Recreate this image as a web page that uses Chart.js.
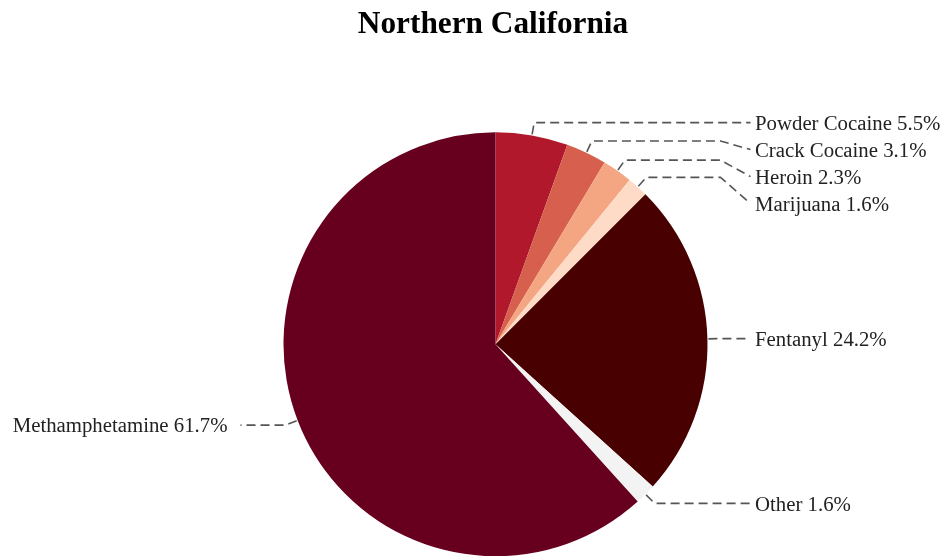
<!DOCTYPE html>
<html>
<head>
<meta charset="utf-8">
<script src="https://cdn.jsdelivr.net/npm/chart.js@4.4.1/dist/chart.umd.min.js"></script>
<style>
  html, body { margin: 0; padding: 0; background: #ffffff; }
  #wrap { width: 940px; height: 556px; position: relative; }
</style>
</head>
<body>
<div id="wrap"><canvas id="c" width="940" height="556"></canvas></div>
<script>
const chartTitle = "Northern California";
const categories = ["Powder Cocaine", "Crack Cocaine", "Heroin", "Marijuana", "Fentanyl", "Other", "Methamphetamine"];
const shares = [5.5, 3.1, 2.3, 1.6, 24.2, 1.6, 61.7];
const sliceColors = ["#b2182b", "#d6604d", "#f4a582", "#fddbc7", "#490000", "#f3f3f3", "#67001f"];

const labelFont = "20.8px 'Liberation Serif', 'Times New Roman', serif";
const titleFont = "bold 31.3px 'Liberation Serif', 'Times New Roman', serif";

const leaderPlugin = {
  id: 'leaders',
  afterDatasetsDraw(chart) {
    const ctx = chart.ctx;
    const meta = chart.getDatasetMeta(0);
    const items = meta.data.map((arc, i) => {
      const p = arc.getProps(['x', 'y', 'startAngle', 'endAngle', 'outerRadius'], true);
      const mid = (p.startAngle + p.endAngle) / 2;
      const cos = Math.cos(mid), sin = Math.sin(mid);
      const r = p.outerRadius;
      return {
        i, cx: p.x, cy: p.y, r,
        right: cos >= 0,
        p1: { x: p.x + (r + 1) * cos, y: p.y + (r + 1) * sin },
        p2: { x: p.x + (r + 13) * cos, y: p.y + (r + 13) * sin },
        text: categories[i] + " " + shares[i].toFixed(1) + "%"
      };
    });
    const gap = 27;
    ['right', 'left'].forEach(side => {
      const list = items.filter(it => (side === 'right') === it.right).sort((a, b) => a.p2.y - b.p2.y);
      let prev = -Infinity;
      list.forEach(it => {
        it.ly = Math.max(it.p2.y, prev + gap);
        prev = it.ly;
      });
    });
    ctx.save();
    ctx.strokeStyle = '#555555';
    ctx.lineWidth = 1.6;
    ctx.setLineDash([9, 5]);
    items.forEach(it => {
      const dir = it.right ? 1 : -1;
      const endX = it.cx + dir * 255;
      const kneeX = it.cx + dir * 225;
      ctx.beginPath();
      ctx.moveTo(it.p1.x, it.p1.y);
      ctx.lineTo(it.p2.x, it.p2.y);
      if (Math.abs(it.ly - it.p2.y) > 0.5) {
        ctx.lineTo(kneeX, it.p2.y);
      }
      ctx.lineTo(endX, it.ly);
      ctx.stroke();
    });
    ctx.setLineDash([]);
    ctx.fillStyle = '#222222';
    ctx.font = labelFont;
    ctx.textBaseline = 'alphabetic';
    items.forEach(it => {
      if (it.right) {
        ctx.textAlign = 'left';
        ctx.fillText(it.text, it.cx + 259.5, it.ly + 7.2);
      } else {
        ctx.textAlign = 'right';
        ctx.fillText(it.text, it.cx - 268, it.ly + 7.2);
      }
    });
    ctx.fillStyle = '#000000';
    ctx.font = titleFont;
    ctx.textAlign = 'center';
    ctx.fillText(chartTitle, 493, 33);
    ctx.restore();
  }
};

new Chart(document.getElementById('c'), {
  type: 'pie',
  data: {
    labels: categories,
    datasets: [{
      data: shares,
      backgroundColor: sliceColors,
      borderWidth: 0,
      radius: 212
    }]
  },
  options: {
    responsive: false,
    devicePixelRatio: 1,
    animation: false,
    layout: { padding: { left: 283.5, right: 232.5, top: 132.5, bottom: 0 } },
    plugins: {
      legend: { display: false },
      tooltip: { enabled: false },
      title: { display: false }
    }
  },
  plugins: [leaderPlugin]
});
</script>
</body>
</html>
